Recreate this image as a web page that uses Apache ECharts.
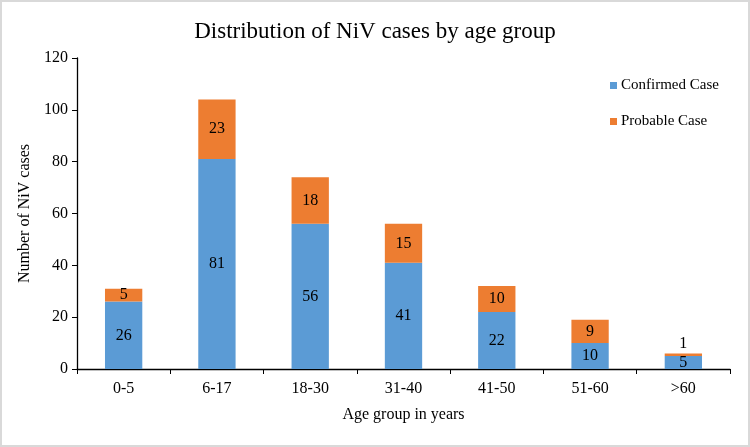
<!DOCTYPE html>
<html>
<head>
<meta charset="utf-8">
<script src="https://cdn.jsdelivr.net/npm/echarts@6/dist/echarts.min.js"></script>
<style>
  html, body { margin:0; padding:0; background:#fff; }
  #main { width:750px; height:447px; box-sizing:border-box; border:2px solid #d9d9d9; }
</style>
</head>
<body>
<div id="main"></div>
<script type="text/javascript">
var ageGroups = ['0-5', '6-17', '18-30', '31-40', '41-50', '51-60', '>60'];
var confirmed = [26, 81, 56, 41, 22, 10, 5];
var probable = [5, 23, 18, 15, 10, 9, 1];
var yTicks = [0, 20, 40, 60, 80, 100, 120];

var serif = '"Liberation Serif", "Times New Roman", serif';

// small segments get their label above the bar
var probableData = probable.map(function (v) {
    if (v < 3) {
        return { value: v, label: { position: 'top', distance: 2 } };
    }
    return v;
});

var myChart = echarts.init(document.getElementById('main'));
var option = {
    backgroundColor: '#fff',
    animation: false,
    title: {
        text: 'Distribution of NiV cases by age group',
        left: 'center',
        top: 13,
        textStyle: { fontFamily: serif, fontSize: 23, fontWeight: 'normal', color: '#000' }
    },
    legend: {
        orient: 'vertical',
        left: 603,
        top: 71,
        itemWidth: 7,
        itemHeight: 7,
        itemGap: 21,
        icon: 'rect',
        data: ['Confirmed Case', 'Probable Case'],
        textStyle: { fontFamily: serif, fontSize: 15, color: '#000', padding: [0, 0, 0, -1] }
    },
    grid: { left: 75, right: 18, top: 56, bottom: 76 },
    xAxis: {
        type: 'category',
        data: ageGroups,
        name: 'Age group in years',
        nameLocation: 'middle',
        nameGap: 38,
        nameTextStyle: { fontFamily: serif, fontSize: 16, color: '#000' },
        axisLine: { lineStyle: { color: '#000', width: 1.3 } },
        axisTick: { show: true, length: 5, lineStyle: { color: '#000' } },
        axisLabel: { fontFamily: serif, fontSize: 16, color: '#000', margin: 12 }
    },
    yAxis: {
        type: 'value',
        min: yTicks[0],
        max: yTicks[yTicks.length - 1],
        interval: 20,
        name: 'Number of NiV cases',
        nameLocation: 'middle',
        nameGap: 36,
        nameTextStyle: { fontFamily: serif, fontSize: 16, color: '#000' },
        axisLine: { show: true, lineStyle: { color: '#000', width: 1.3 } },
        axisTick: { show: true, length: 5, lineStyle: { color: '#000' } },
        splitLine: { show: false },
        axisLabel: { fontFamily: serif, fontSize: 16, color: '#000', margin: 9 }
    },
    series: [{
        name: 'Confirmed Case',
        type: 'bar',
        stack: 'total',
        barWidth: '40%',
        data: confirmed,
        itemStyle: { color: '#5B9BD5' },
        label: { show: true, position: 'inside', fontFamily: serif, fontSize: 16, color: '#000' }
    }, {
        name: 'Probable Case',
        type: 'bar',
        stack: 'total',
        data: probableData,
        itemStyle: { color: '#ED7D31' },
        label: { show: true, position: 'inside', fontFamily: serif, fontSize: 16, color: '#000' }
    }]
};
myChart.setOption(option);
</script>
</body>
</html>
